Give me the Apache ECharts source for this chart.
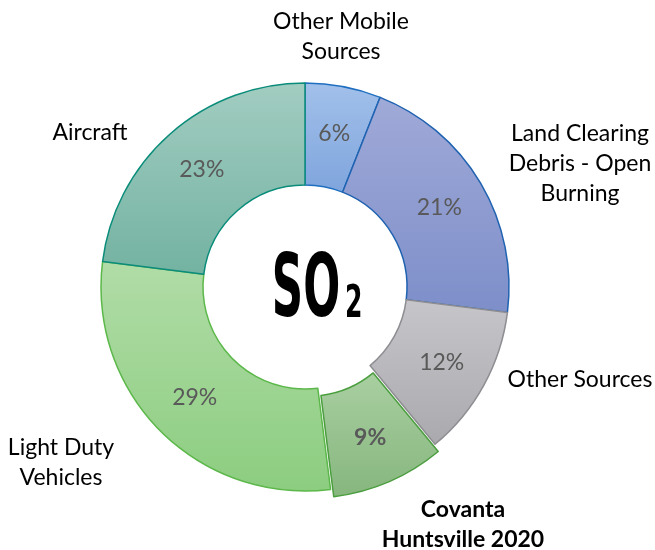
<!DOCTYPE html>
<html>
<head>
<meta charset="utf-8">
<script src="https://cdn.jsdelivr.net/npm/echarts@6/dist/echarts.min.js"></script>
<style>
  html, body { margin: 0; padding: 0; background: #fff; }
  #chart { width: 655px; height: 550px; }
</style>
</head>
<body>
<div id="chart"></div>
<script>
// 数据
const categories = ['Other Mobile\nSources', 'Land Clearing\nDebris - Open\nBurning', 'Other Sources', 'Covanta\nHuntsville 2020', 'Light Duty\nVehicles', 'Aircraft'];
const shares = [6, 21, 12, 9, 29, 23];
const highlight = [false, false, false, true, false, false];

// 样式：渐变上/下色 + 描边色
const topColors = ['#a2c0ea', '#a0aad8', '#c6c6ca', '#a9cfa1', '#b1dca7', '#a2cdc1'];
const bottomColors = ['#7fa5dd', '#7d8ec9', '#a9a9ae', '#86b67e', '#8ccd80', '#73b2a1'];
const borderColors = ['#1f6fc0', '#1f62b0', '#8e8e92', '#4a9e3e', '#5cb84a', '#0a8c7a'];
// 外侧标签位置
const labelPos = [[341, 37], [580, 164], [580, 380], [463, 525], [61, 463], [90, 133]];

const chart = echarts.init(document.getElementById('chart'), null, { renderer: 'canvas' });

const ringData = categories.map((name, i) => ({
  name: name,
  value: shares[i],
  selected: highlight[i],
  itemStyle: {
    color: new echarts.graphic.LinearGradient(0, 0, 0, 1, [
      { offset: 0, color: topColors[i] },
      { offset: 1, color: bottomColors[i] }
    ]),
    borderColor: borderColors[i]
  },
  label: { fontWeight: highlight[i] ? 'bold' : 'normal' }
}));

const nameData = categories.map((name, i) => ({
  name: name,
  value: shares[i],
  label: { fontWeight: highlight[i] ? 'bold' : 'normal' }
}));

chart.setOption({
  animation: false,
  graphic: [
    {
      type: 'text',
      x: 306, y: 293,
      scaleX: 0.55,
      style: {
        text: 'SO', x: 0, y: 0,
        textAlign: 'center', textVerticalAlign: 'middle',
        font: 'bold 88px "DejaVu Sans Condensed"', fill: '#000'
      }
    },
    {
      type: 'text',
      x: 345, y: 305,
      scaleX: 0.62,
      style: {
        text: '2', x: 0, y: 0,
        textAlign: 'left', textVerticalAlign: 'middle',
        font: 'bold 45px "DejaVu Sans Condensed"', fill: '#000'
      }
    }
  ],
  series: [
    {
      type: 'pie',
      center: [305, 287],
      radius: [102, 204],
      startAngle: 90,
      clockwise: true,
      selectedMode: 'single',
      selectedOffset: 8,
      avoidLabelOverlap: false,
      itemStyle: { borderWidth: 1.5 },
      emphasis: { disabled: true },
      label: {
        show: true,
        position: 'inside',
        formatter: '{c}%',
        color: '#595959',
        fontSize: 23,
        fontFamily: 'Lato'
      },
      labelLine: { show: false },
      data: ringData
    },
    {
      type: 'pie',
      center: [305, 287],
      radius: [102, 204],
      startAngle: 90,
      silent: true,
      itemStyle: { color: 'rgba(0,0,0,0)', borderWidth: 0 },
      emphasis: { disabled: true },
      label: {
        show: true,
        position: 'outside',
        formatter: '{b}',
        color: '#000',
        fontSize: 23,
        lineHeight: 30,
        align: 'center',
        overflow: 'none',
        width: 300,
        fontFamily: 'Lato'
      },
      labelLine: { show: false },
      labelLayout: function (params) {
        const p = labelPos[params.dataIndex];
        return { x: p[0], y: p[1], align: 'center', verticalAlign: 'middle', hideOverlap: false };
      },
      data: nameData
    }
  ]
});
</script>
</body>
</html>
